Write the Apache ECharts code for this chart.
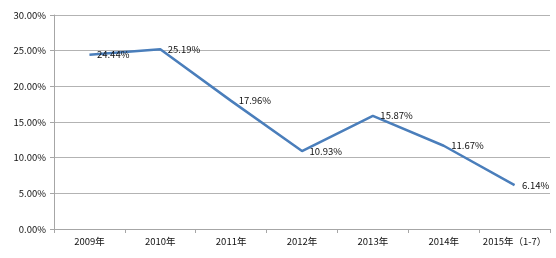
<!DOCTYPE html>
<html><head><meta charset="utf-8">
<script src="https://cdn.jsdelivr.net/npm/echarts@6/dist/echarts.min.js"></script>
<style>html,body{margin:0;padding:0;background:#fff}#c{width:556px;height:258px}</style>
</head><body><div id="c"></div>
<script>
const categories = ['2009年','2010年','2011年','2012年','2013年','2014年','2015年（1-7）'];
const values = [24.44, 25.19, 17.96, 10.93, 15.87, 11.67, 6.14];
const yMin = 0, yMax = 30, yStep = 5;
const font = '"Noto Sans CJK SC", "Noto Sans", sans-serif';
const chart = echarts.init(document.getElementById('c'), null, {renderer:'canvas'});
chart.setOption({
  animation:false,
  backgroundColor:'#fff',
  grid:{left:54,right:6,top:15,bottom:29,containLabel:false},
  xAxis:{type:'category',data:categories,boundaryGap:true,
    axisLine:{show:true,lineStyle:{color:'#a6a6a6',width:1}},
    axisTick:{show:true,length:4,lineStyle:{color:'#a6a6a6'}},
    axisLabel:{color:'#111',fontSize:9.5,fontFamily:font,margin:8,interval:0},
    splitLine:{show:false}},
  yAxis:{type:'value',min:yMin,max:yMax,interval:yStep,
    axisLine:{show:true,lineStyle:{color:'#a6a6a6',width:1}},
    axisTick:{show:true,length:4,lineStyle:{color:'#a6a6a6'}},
    axisLabel:{color:'#111',fontSize:9.5,fontFamily:font,margin:8,formatter:v=>v.toFixed(2)+'%'},
    splitLine:{show:true,lineStyle:{color:'#b3b3b3',width:1}}},
  series:[{type:'line',data:values,symbol:'circle',symbolSize:1,showSymbol:true,
    itemStyle:{color:'rgba(0,0,0,0)'},
    lineStyle:{color:'#4a7ebb',width:2.5},
    label:{show:true,position:'right',distance:7,color:'#111',fontSize:9.5,fontFamily:font,
      formatter:p=>p.value.toFixed(2)+'%'}}]
});
</script></body></html>
